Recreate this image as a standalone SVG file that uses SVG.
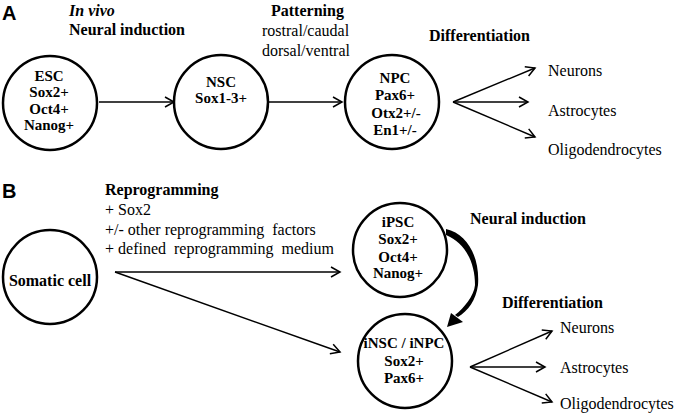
<svg xmlns="http://www.w3.org/2000/svg" width="675" height="417" viewBox="0 0 675 417">
<style>
.bg{fill:#fff}
.cell{fill:#fff;stroke:#000;stroke-width:2.5}
.nt{font-family:'Liberation Serif',serif;font-size:15px;font-weight:bold;fill:#000;text-anchor:middle}
.hd{font-family:'Liberation Serif',serif;font-size:16px;font-weight:bold;fill:#000}
.lbl{font-family:'Liberation Serif',serif;font-size:16px;font-weight:normal;fill:#000}
.pl{font-family:'Liberation Sans',sans-serif;font-size:20px;font-weight:bold;fill:#000}
.ln{fill:none;stroke:#000;stroke-width:1.4;marker-end:url(#ah)}
</style>
<defs>
<marker id="ah" markerUnits="userSpaceOnUse" markerWidth="14" markerHeight="14" viewBox="-11 -7 14 14" refX="0" refY="0" orient="auto">
<path d="M-9,-5 L0,0 L-9,5" fill="none" stroke="#000" stroke-width="1.5" stroke-linejoin="miter"/>
</marker>
</defs>
<rect class="bg" x="0" y="0" width="675" height="417"/>

<text class="pl" x="2" y="20">A</text>
<text class="pl" x="2" y="198">B</text>

<text class="hd" x="69" y="16" font-style="italic">In vivo</text>
<text class="hd" x="69" y="35">Neural induction</text>
<text class="hd" x="271" y="16">Patterning</text>
<text class="hd" x="429" y="41">Differentiation</text>
<text class="hd" x="105" y="195">Reprogramming</text>
<text class="hd" x="470" y="224">Neural induction</text>
<text class="hd" x="502" y="308">Differentiation</text>

<g font-family="Liberation Serif, serif" font-size="16" fill="#000">
<text class="lbl" font-family="Liberation Serif, serif" x="262" y="36">rostral/caudal</text>
<text class="lbl" font-family="Liberation Serif, serif" x="262" y="56">dorsal/ventral</text>
<text class="lbl" font-family="Liberation Serif, serif" x="548" y="76">Neurons</text>
<text class="lbl" font-family="Liberation Serif, serif" x="548" y="116">Astrocytes</text>
<text class="lbl" font-family="Liberation Serif, serif" x="548" y="155">Oligodendrocytes</text>
<text class="lbl" font-family="Liberation Serif, serif" x="105" y="215" xml:space="preserve">+ Sox2</text>
<text class="lbl" font-family="Liberation Serif, serif" x="105" y="235" xml:space="preserve">+/- other reprogramming  factors</text>
<text class="lbl" font-family="Liberation Serif, serif" x="105" y="254" xml:space="preserve">+ defined  reprogramming  medium</text>
<text class="lbl" font-family="Liberation Serif, serif" x="560" y="333">Neurons</text>
<text class="lbl" font-family="Liberation Serif, serif" x="560" y="373">Astrocytes</text>
<text class="lbl" font-family="Liberation Serif, serif" x="560" y="409">Oligodendrocytes</text>
</g>

<g id="connectors">
<line class="ln" x1="99" y1="102" x2="174" y2="102"/>
<line class="ln" x1="269" y1="102" x2="342" y2="102"/>
<line class="ln" x1="453" y1="102" x2="535" y2="68"/>
<line class="ln" x1="453" y1="102" x2="528" y2="102"/>
<line class="ln" x1="453" y1="102" x2="535" y2="137"/>
<line class="ln" x1="115" y1="272" x2="340" y2="272"/>
<line class="ln" x1="115" y1="272" x2="340" y2="352"/>
<line class="ln" x1="470" y1="367" x2="552" y2="331"/>
<line class="ln" x1="470" y1="367" x2="545" y2="367"/>
<line class="ln" x1="470" y1="367" x2="552" y2="402"/>
<path d="M446,229 C468,234 480,258 478,285 C476,300 468,311 458,317 L455,315 C464,308 474,296 475,285 C475,262 465,243 446,235 Z" fill="#000"/>
<polygon points="447,327 451,313 463,322" fill="#000"/>
</g>

<g id="esc">
<circle class="cell" cx="50" cy="103" r="47"/>
<text class="nt" x="49" y="81">ESC</text>
<text class="nt" x="49" y="97">Sox2+</text>
<text class="nt" x="49" y="114">Oct4+</text>
<text class="nt" x="49" y="130">Nanog+</text>
</g>
<g id="nsc">
<circle class="cell" cx="221" cy="102" r="47"/>
<text class="nt" x="221" y="87">NSC</text>
<text class="nt" x="221" y="103">Sox1-3+</text>
</g>
<g id="npc">
<circle class="cell" cx="392" cy="102" r="47"/>
<text class="nt" x="395" y="83">NPC</text>
<text class="nt" x="395" y="100">Pax6+</text>
<text class="nt" x="396" y="118">Otx2+/-</text>
<text class="nt" x="395" y="135">En1+/-</text>
</g>
<g id="somatic">
<circle class="cell" cx="50" cy="277" r="47"/>
<text class="nt" x="50" y="286" style="font-size:16px">Somatic cell</text>
</g>
<g id="ipsc">
<circle class="cell" cx="400" cy="250" r="47"/>
<text class="nt" x="398" y="227">iPSC</text>
<text class="nt" x="398" y="244">Sox2+</text>
<text class="nt" x="398" y="262">Oct4+</text>
<text class="nt" x="398" y="278">Nanog+</text>
</g>
<g id="insc">
<circle class="cell" cx="405" cy="361" r="47"/>
<text class="nt" x="404" y="348">iNSC / iNPC</text>
<text class="nt" x="404" y="366">Sox2+</text>
<text class="nt" x="404" y="383">Pax6+</text>
</g>
</svg>
